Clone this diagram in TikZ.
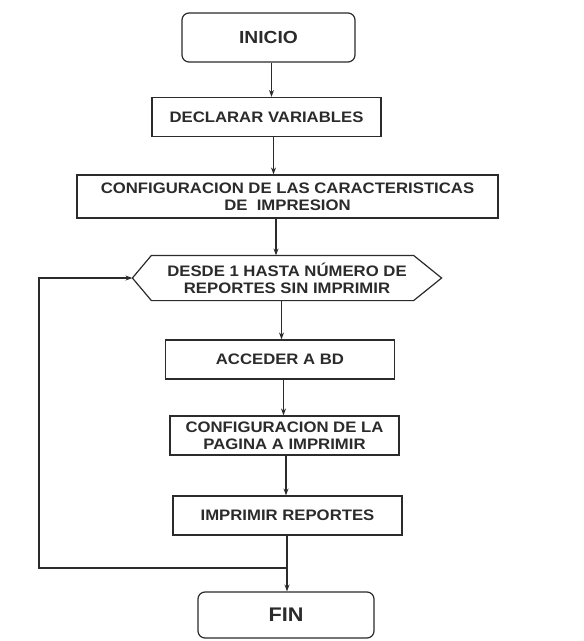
\documentclass[tikz,border=0pt]{standalone}
\usepackage{fontspec}
\setmainfont{Liberation Sans}[FakeStretch=1.1]
\usetikzlibrary{arrows.meta}
\definecolor{ink}{HTML}{2B2B2B}
\tikzset{
  box/.style={draw=ink, line width=1.2pt, minimum width=229pt, minimum height=39pt, inner sep=0pt,
    font=\fontsize{15.2}{17}\selectfont\bfseries, text=ink, align=center},
  term/.style={box, rounded corners=7pt},
  arr/.style={draw=ink, line width=1.7pt, -{Stealth[length=7pt,width=5pt]}},
  loopline/.style={draw=ink, line width=1.2pt, -{Stealth[length=7pt,width=5pt]}},
}
\begin{document}
\begin{tikzpicture}[x=1pt,y=-1pt]
\path[use as bounding box, fill=white] (0,0) rectangle (584,641);
\node[term, minimum width=173pt, minimum height=49pt, font=\fontsize{17.5}{20}\selectfont\bfseries] (ini) at (268.5,37.5) {INICIO};
\node[box] (dec) at (266.5,117) {DECLARAR VARIABLES};
\node[box, minimum width=421pt, minimum height=43pt] (conf) at (287.5,196.5)
  {CONFIGURACION DE LAS CARACTERISTICAS\\DE\ \ IMPRESION};
\node[box, draw=none, minimum width=308pt, minimum height=44pt] (hex) at (287,278)
  {DESDE 1 HASTA NÚMERO DE\\REPORTES SIN IMPRIMIR};
\draw[draw=ink, line width=1.2pt] (hex.west) -- ([xshift=19pt]hex.north west) -- ([xshift=-28pt]hex.north east)
  -- (hex.east) -- ([xshift=-28pt]hex.south east) -- ([xshift=19pt]hex.south west) -- cycle;
\node[box] (acc) at (280,359.5) {ACCEDER A BD};
\node[box] (pag) at (284.5,435.5) {CONFIGURACION DE LA\\PAGINA A IMPRIMIR};
\node[box] (imp) at (287.5,515.5) {IMPRIMIR REPORTES};
\node[term, minimum width=176pt, minimum height=46pt, font=\fontsize{19.7}{22}\selectfont\bfseries] (fin) at (286,615) {FIN};
\coordinate (j) at (287,568);
\coordinate (lp) at (39,568);
\draw[arr] ([xshift=3pt]ini.south) -- ([xshift=3pt]ini.south |- dec.north);
\draw[arr] ([xshift=7pt]dec.south) -- ([xshift=7pt]dec.south |- conf.north);
\draw[arr] ([xshift=-11.5pt]conf.south) -- ([xshift=-11.5pt]conf.south |- hex.north);
\draw[arr] ([xshift=-5.5pt]hex.south) -- ([xshift=-5.5pt]hex.south |- acc.north);
\draw[arr] ([xshift=3.5pt]acc.south) -- ([xshift=3.5pt]acc.south |- pag.north);
\draw[arr] ([xshift=1.5pt]pag.south) -- ([xshift=1.5pt]pag.south |- imp.north);
\draw[arr] ([xshift=-0.5pt]imp.south) -- ([xshift=-0.5pt]imp.south |- fin.north);
\draw[loopline] (j) -- (lp) |- (hex.west);
\end{tikzpicture}
\end{document}
